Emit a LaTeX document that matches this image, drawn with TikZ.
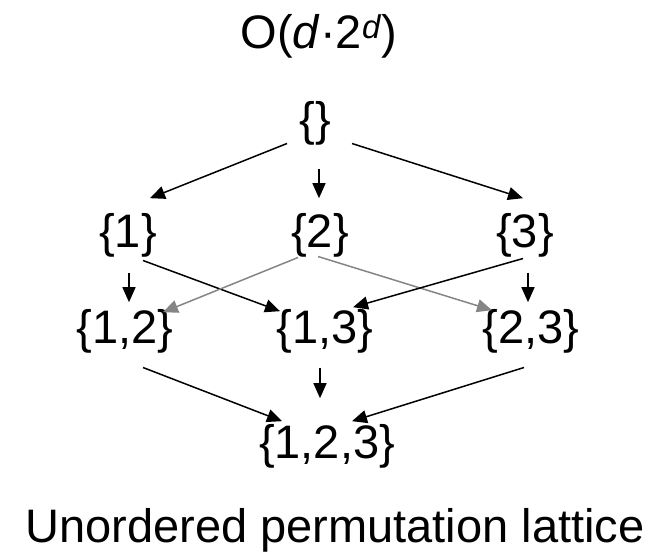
\documentclass[tikz,border=0pt]{standalone}
\usepackage{fontspec}
\setmainfont{Liberation Sans}
\usetikzlibrary{arrows.meta}

\begin{document}
\begin{tikzpicture}[x=1pt, y=-1pt, >={Triangle[length=15pt, width=13pt]}, line width=1.5pt,
  set/.style={inner sep=0pt, anchor=base, font=\fontsize{47}{47}\selectfont},
  link/.style={->, black},
  faint/.style={->, black!48}]
\useasboundingbox (0,0) rectangle (659,552);
\node[set] (title) at (319,48) {O(\textit{d}·2\textsuperscript{\textit{d}})};
\node[set] (top) at (315,135) {\{\}};
\node[set] (n1) at (128,247) {\{1\}};
\node[set] (n2) at (320,247) {\{2\}};
\node[set] (n3) at (525,247) {\{3\}};
\node[set] (n12) at (125,343) {\{1,2\}};
\node[set] (n13) at (325,343) {\{1,3\}};
\node[set] (n23) at (531,343) {\{2,3\}};
\node[set] (n123) at (327,458) {\{1,2,3\}};
\node[set] (caption) at (335,542) {Unordered permutation lattice};
% first level
\draw[link] ([xshift=-28pt, yshift=2pt]top.south) -- ([xshift=22pt, yshift=14pt]n1.north);
\draw[link] ([xshift=4pt, yshift=-23pt]top.south) -- ([xshift=-1pt, yshift=14pt]n2.north);
\draw[link] ([xshift=37pt, yshift=2pt]top.south) -- ([xshift=-2pt, yshift=14pt]n3.north);
% second level
\draw[link] ([xshift=1pt, yshift=-15pt]n1.south) -- ([xshift=4pt, yshift=6pt]n12.north);
\draw[link] ([xshift=15pt, yshift=-3pt]n1.south) -- ([xshift=-45pt, yshift=-3pt]n13.north);
\draw[faint] ([xshift=-22pt]n2.south) -- ([xshift=38pt, yshift=-4pt]n12.north);
\draw[faint] ([xshift=-2pt, yshift=1pt]n2.south) -- ([xshift=-39pt, yshift=-2pt]n23.north);
\draw[link] ([xshift=-2pt, yshift=-1pt]n3.south) -- ([xshift=28pt, yshift=1pt]n13.north);
\draw[link] ([xshift=3pt, yshift=-15pt]n3.south) -- ([xshift=-3pt, yshift=6pt]n23.north);
% third level
\draw[link] ([xshift=18pt, yshift=-14pt]n12.south) -- ([xshift=-45pt, yshift=2pt]n123.north);
\draw[link] ([xshift=-5pt, yshift=-14pt]n13.south) -- ([xshift=-7pt, yshift=25pt]n123.north);
\draw[link] ([xshift=-7pt, yshift=-14pt]n23.south) -- ([xshift=25pt, yshift=2pt]n123.north);
\end{tikzpicture}
\end{document}
